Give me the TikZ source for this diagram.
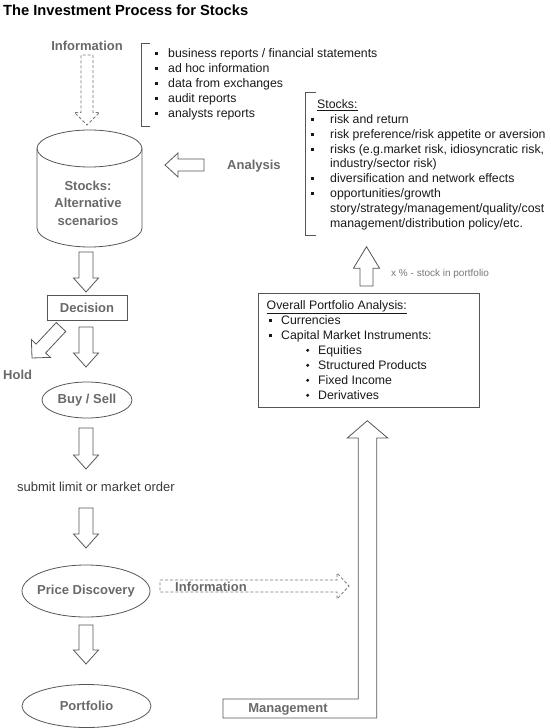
\documentclass[tikz,border=0pt]{standalone}
\usepackage{fontspec}
\setmainfont{Liberation Sans}
\usetikzlibrary{calc}
\definecolor{linegray}{RGB}{85,85,85}
\definecolor{labelgray}{RGB}{105,105,105}
\definecolor{textdark}{RGB}{25,25,25}
\definecolor{notegray}{RGB}{120,120,120}

% hollow block arrow: [style]{tail}{tip}{shaft half width}{head half width}{head length}
\newcommand{\hollowarrow}[6][]{%
  \coordinate (hbase) at ($(#3)!#6!(#2)$);
  \draw[grayline,#1] ($(#2)!#4!90:(#3)$) -- ($(hbase)!#4!-90:(#2)$)
    -- ($(hbase)!#5!-90:(#2)$) -- (#3) -- ($(hbase)!#5!90:(#2)$)
    -- ($(hbase)!#4!90:(#2)$) -- ($(#2)!#4!-90:(#3)$) -- cycle;
}

\begin{document}
\begin{tikzpicture}[x=1pt, y=-1pt,
  grayline/.style={draw=linegray, line width=0.8pt},
  dashedarrow/.style={draw=notegray, dash pattern=on 3pt off 2pt},
  boldlabel/.style={text=labelgray, font=\fontsize{13}{17.5}\selectfont\bfseries, inner sep=0pt},
  listtext/.style={text=textdark, font=\fontsize{12.3}{15}\selectfont, inner sep=0pt, anchor=base west},
  sqbullet/.style={fill=textdark},
  ]
  \useasboundingbox (0,0) rectangle (550,728);

  % Coordinates
  \coordinate (infoT) at (87,55);
  \coordinate (infoH) at (87,125);
  \coordinate (anaT) at (204,165);
  \coordinate (anaH) at (165,165);
  \coordinate (cylT) at (86,252);
  \coordinate (cylH) at (86,292);
  \coordinate (decT) at (86,327);
  \coordinate (decH) at (86,367);
  \coordinate (holdT) at (61,327);
  \coordinate (holdH) at (32,358);
  \coordinate (buyT) at (86,428);
  \coordinate (buyH) at (86,469);
  \coordinate (subT) at (86,508);
  \coordinate (subH) at (86,548);
  \coordinate (pdT) at (86,625);
  \coordinate (pdH) at (86,664);
  \coordinate (flowT) at (160,586);
  \coordinate (flowH) at (349,586);
  \coordinate (pctT) at (366.5,286);
  \coordinate (pctH) at (366.5,246.7);
  \coordinate (opA) at (258,293);
  \coordinate (opB) at (479,407);

  % Title
  \node[anchor=base west, inner sep=0pt, font=\fontsize{14.7}{17}\selectfont\bfseries] (title) at (3,15.5) {The Investment Process for Stocks};

  % Information sources
  \node[boldlabel, anchor=base] (info) at (87,50.5) {Information};
  \hollowarrow[dashedarrow]{infoT}{infoH}{6pt}{12.5pt}{12.5pt}
  \draw[grayline] (150,43) -- (141,43) -- (141,126) -- (150,126);
  \foreach \txt [count=\i] in {business reports / financial statements, ad hoc information, data from exchanges, audit reports, analysts reports}
    \node[listtext] (src\i) at (168,{42.5+15*\i}) {\txt};
  \foreach \i in {1,...,5}
    \fill[sqbullet] ($(src\i.base west)+(-13.5,-5.5)$) rectangle +(3,3);

  % Stocks database
  \draw[grayline] (37,148.5) -- (37,228) arc[start angle=180, end angle=360, x radius=52.5pt, y radius=19pt] -- (142,148.5);
  \draw[grayline] (89.5,148.5) ellipse [x radius=52.5pt, y radius=18.5pt];
  \node[boldlabel, align=center] (stocks) at (88,203) {Stocks:\\Alternative\\scenarios};

  % Analysis
  \hollowarrow{anaT}{anaH}{6pt}{12pt}{13pt}
  \node[boldlabel, anchor=base west] (analysis) at (227,169.5) {Analysis};
  \draw[grayline] (316,92.7) -- (305.7,92.7) -- (305.7,235) -- (316,235);
  \node[listtext] (sthead) at (317,108.5) {\underline{Stocks:}};
  \foreach \txt [count=\i] in {risk and return, risk preference/risk appetite or aversion, {risks (e.g.market risk, idiosyncratic risk,}, industry/sector risk), diversification and network effects, opportunities/growth, story/strategy/management/quality/cost, management/distribution policy/etc.}
    \node[listtext] (st\i) at (330,{108.5+14.85*\i}) {\txt};
  \foreach \i in {1,2,3,5,6}
    \fill[sqbullet] ($(st\i.base west)+(-19.5,-5.5)$) rectangle +(3,3);

  % Overall portfolio
  \hollowarrow{pctT}{pctH}{6.5pt}{13pt}{21.5pt}
  \node[anchor=base west, inner sep=0pt, text=notegray, font=\fontsize{10}{12}\selectfont] (pct) at (391,276.6) {x \% - stock in portfolio};
  \draw[grayline] (opA) rectangle (opB);
  \node[listtext] (ophead) at (266.5,309.5) {\underline{Overall Portfolio Analysis:}};
  \foreach \txt [count=\i] in {Currencies, Capital Market Instruments:}
    \node[listtext] (op\i) at (281,{309.5+15*\i}) {\txt};
  \foreach \txt [count=\i from 3] in {Equities, Structured Products, Fixed Income, Derivatives}
    \node[listtext] (op\i) at (318,{309.5+15*\i}) {\txt};
  \foreach \i in {1,2}
    \fill[sqbullet] ($(op\i.base west)+(-12.5,-5.5)$) rectangle +(3,3);
  \foreach \i in {3,...,6}
    \fill[sqbullet] ($(op\i.base west)+(-10.3,-4.2)$) circle (1.7pt);

  % Main flow
  \hollowarrow{cylT}{cylH}{7pt}{12.5pt}{14pt}
  \node[grayline, draw, boldlabel, minimum width=80pt, minimum height=25pt] (decision) at (87,307.5) {Decision};
  \hollowarrow{decT}{decH}{7pt}{12.5pt}{14pt}
  \hollowarrow{holdT}{holdH}{6.5pt}{13pt}{13pt}
  \node[boldlabel, anchor=base west] (hold) at (3,379.5) {Hold};
  \node[boldlabel] (buysell) at (87,400) {Buy / Sell};
  \draw[grayline] (buysell) ellipse [x radius=45pt, y radius=18pt];
  \hollowarrow{buyT}{buyH}{7pt}{12.5pt}{14pt}
  \node[anchor=base west, inner sep=0pt, text=textdark!85!white, font=\fontsize{13}{15}\selectfont] (submit) at (17,491.3) {submit limit or market order};
  \hollowarrow{subT}{subH}{7pt}{12.5pt}{14pt}
  \node[boldlabel] (pricedisc) at (86,591) {Price Discovery};
  \draw[grayline] (pricedisc) ellipse [x radius=64pt, y radius=26pt];
  \hollowarrow[dashedarrow]{flowT}{flowH}{6pt}{13pt}{12pt}
  \node[boldlabel, anchor=base west] (info2) at (175,591.2) {Information};
  \hollowarrow{pdT}{pdH}{7pt}{12.5pt}{14pt}
  \node[boldlabel] (portfolio) at (86.5,706) {Portfolio};
  \draw[grayline] (portfolio) ellipse [x radius=64.5pt, y radius=21.5pt];

  % Management
  \draw[grayline] (223,699) -- (358.3,699) -- (358.3,438) -- (347.3,438) -- (367.3,420.7)
    -- (387.7,438) -- (376.7,438) -- (376.7,718) -- (223,718) -- cycle;
  \node[boldlabel, anchor=base] (management) at (288,712.6) {Management};
\end{tikzpicture}
\end{document}
